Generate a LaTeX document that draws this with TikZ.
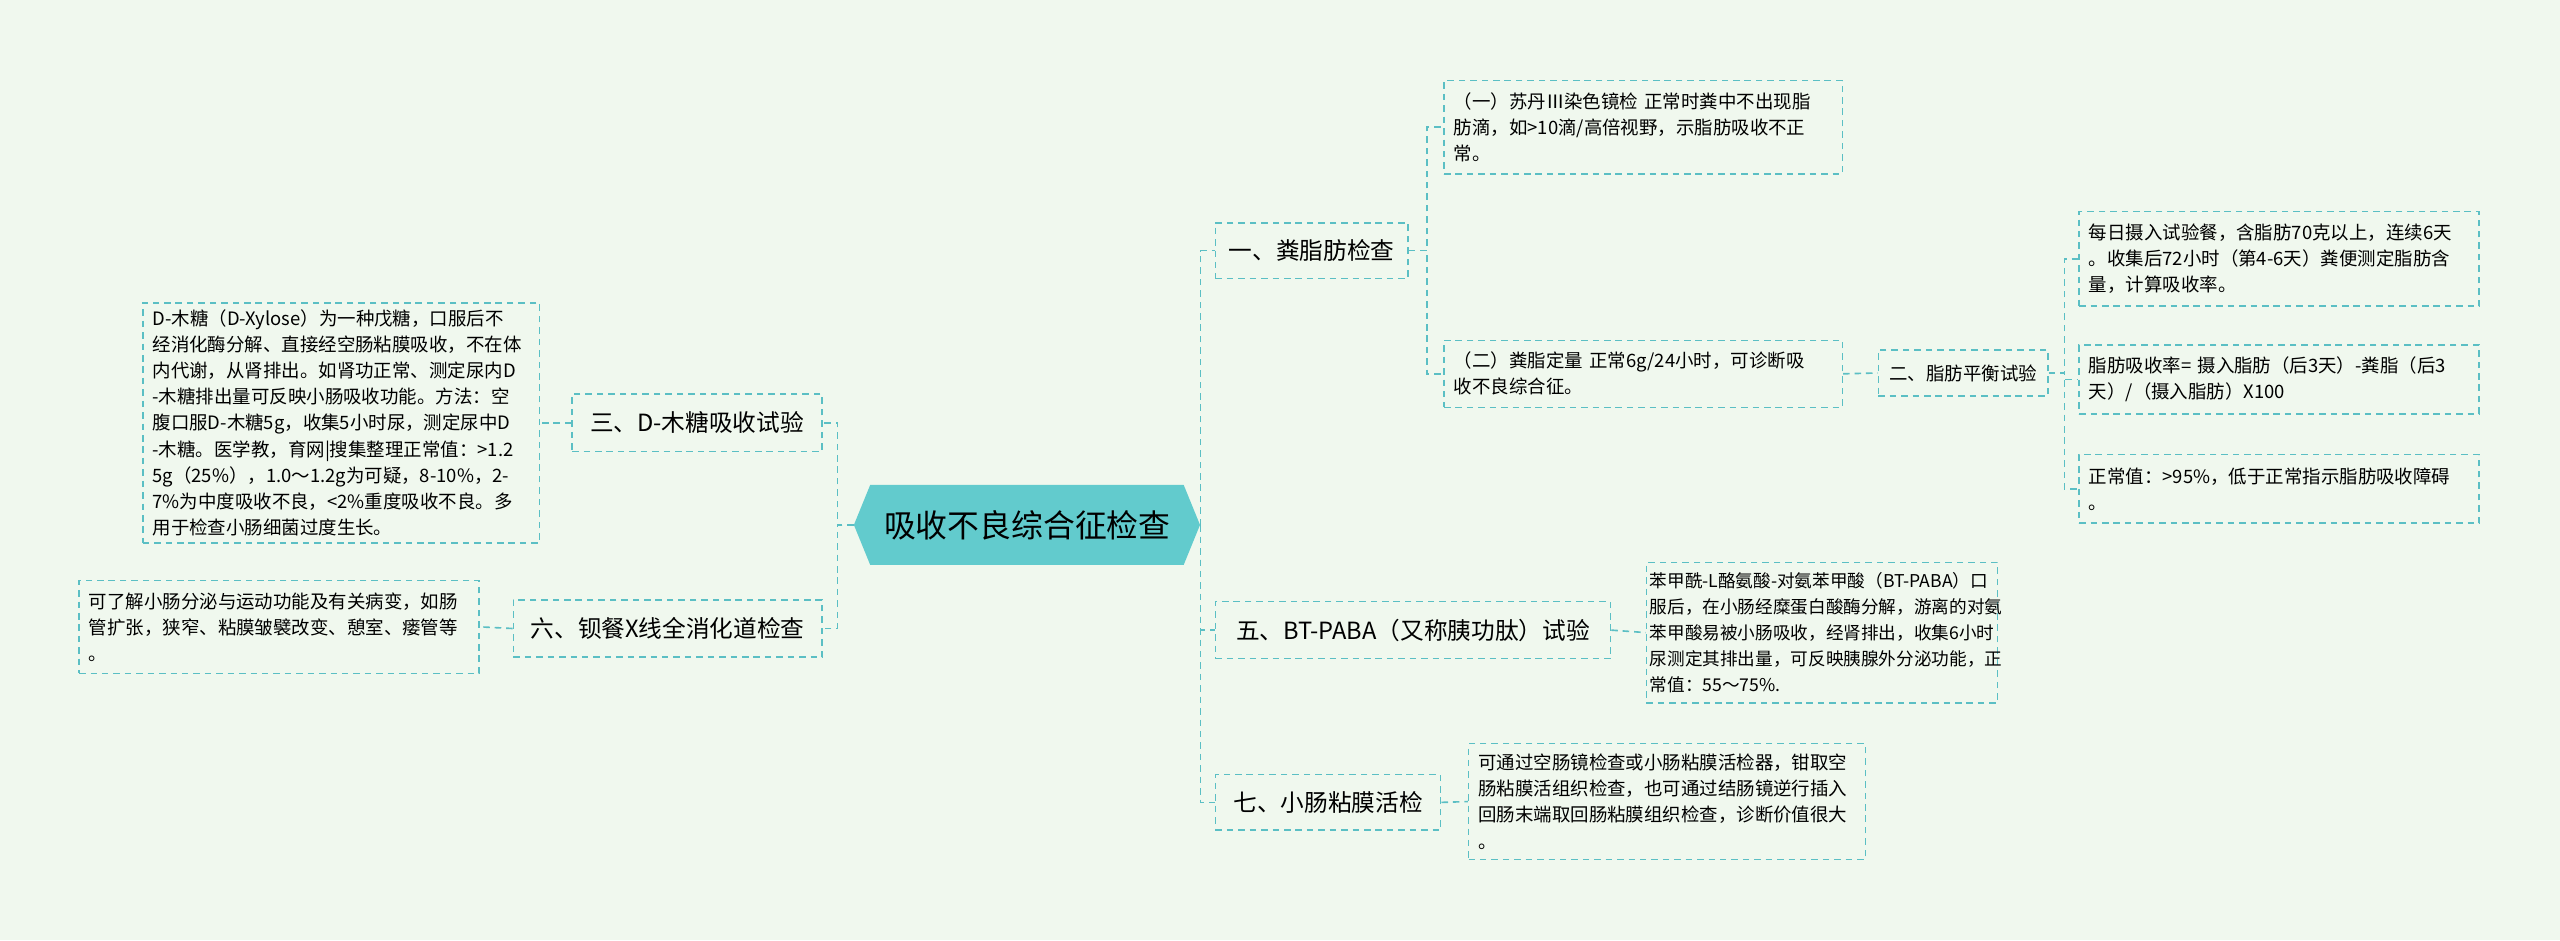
\documentclass[tikz,border=0pt]{standalone}
\usepackage{fontspec}
\setmainfont{Noto Sans CJK SC}
\usetikzlibrary{calc}
\definecolor{bg}{HTML}{F0F8EE}
\definecolor{ln}{HTML}{5BBFC4}
\definecolor{rootc}{HTML}{62CBCD}
\tikzset{
  conn/.style={draw=ln,line width=1pt,dash pattern=on 4pt off 3pt},
  box/.style={draw=ln,line width=0.9pt,dash pattern=on 4pt off 3pt,anchor=north west,inner sep=0pt,align=center},
  lvl/.style={box,font=\fontsize{14.5}{17}\selectfont},
  leaf/.style={box,font=\fontsize{11.3}{16}\selectfont,align=left},
}
\begin{document}
\begin{tikzpicture}[x=1pt,y=-1pt]
\fill[bg] (0,0) rectangle (1568,576);
\useasboundingbox (0,0) rectangle (1568,576);
% root
\fill[rootc] (523,321.5)--(533,297)--(725,297)--(735,321.5)--(725,346)--(533,346)--cycle;
\node[font=\fontsize{19.5}{22}\selectfont,minimum width=212,minimum height=49,anchor=north west,inner sep=0] (root) at (523,297) {吸收不良综合征检查};
% left
\node[lvl,minimum width=153,minimum height=35] (n3) at (350,241) {三、D-木糖吸收试验};
\node[lvl,minimum width=189,minimum height=35] (n6) at (314,367) {六、钡餐X线全消化道检查};
\node[leaf,minimum width=243,minimum height=147,text width=231,inner xsep=6pt] (t3) at (87,185) {D-木糖（D-Xylose）为一种戊糖，口服后不\\经消化酶分解、直接经空肠粘膜吸收，不在体\\内代谢，从肾排出。如肾功正常、测定尿内D\\-木糖排出量可反映小肠吸收功能。方法：空\\腹口服D-木糖5g，收集5小时尿，测定尿中D\\-木糖。医学教，育网|搜集整理正常值：>1.2\\5g（25\%），1.0～1.2g为可疑，8-10\%，2-\\7\%为中度吸收不良，<2\%重度吸收不良。多\\用于检查小肠细菌过度生长。};
\node[leaf,minimum width=245,minimum height=57,text width=233,inner xsep=6pt] (t6) at (48,355) {可了解小肠分泌与运动功能及有关病变，如肠\\管扩张，狭窄、粘膜皱襞改变、憩室、瘘管等\\。};
% right level1
\node[lvl,minimum width=118,minimum height=34] (n1) at (744,136) {一、粪脂肪检查};
\node[lvl,minimum width=242,minimum height=35] (n5) at (744,368) {五、BT-PABA（又称胰功肽）试验};
\node[lvl,minimum width=138,minimum height=34] (n7) at (744,474) {七、小肠粘膜活检};
% sub of 1
\node[leaf,minimum width=244,minimum height=57,text width=232,inner xsep=6pt] (a1) at (884,49) {（一）苏丹Ⅲ染色镜检 正常时粪中不出现脂\\肪滴，如>10滴/高倍视野，示脂肪吸收不正\\常。};
\node[leaf,minimum width=244,minimum height=41,text width=232,inner xsep=6pt] (a2) at (884,208) {（二）粪脂定量 正常6g/24小时，可诊断吸\\收不良综合征。};
\node[box,font=\fontsize{11.3}{14}\selectfont,minimum width=104,minimum height=28] (b2) at (1150,214) {二、脂肪平衡试验};
\node[leaf,minimum width=245,minimum height=58,text width=233,inner xsep=6pt] (c1) at (1273,129) {每日摄入试验餐，含脂肪70克以上，连续6天\\。收集后72小时（第4-6天）粪便测定脂肪含\\量，计算吸收率。};
\node[leaf,minimum width=245,minimum height=42,text width=233,inner xsep=6pt] (c2) at (1273,211) {脂肪吸收率= 摄入脂肪（后3天）-粪脂（后3\\天）/（摄入脂肪）X100};
\node[leaf,minimum width=245,minimum height=42,text width=233,inner xsep=6pt] (c3) at (1273,278) {正常值：>95\%，低于正常指示脂肪吸收障碍\\。};
\node[leaf,font=\fontsize{10.8}{16}\selectfont,minimum width=215,minimum height=86,text width=211,inner xsep=2pt] (t5) at (1008,344) {\hbox{苯甲酰-L酪氨酸-对氨苯甲酸（BT-PABA）口}\\服后，在小肠经糜蛋白酸酶分解，游离的对氨\\苯甲酸易被小肠吸收，经肾排出，收集6小时\\尿测定其排出量，可反映胰腺外分泌功能，正\\常值：55～75\%.};
\node[leaf,minimum width=243,minimum height=71,text width=231,inner xsep=6pt] (t7) at (899,455) {可通过空肠镜检查或小肠粘膜活检器，钳取空\\肠粘膜活组织检查，也可通过结肠镜逆行插入\\回肠末端取回肠粘膜组织检查，诊断价值很大\\。};
% connectors
\draw[conn] (root.east) |- (n1.west);
\draw[conn] (root.east) |- (n5.west);
\draw[conn] (root.east) |- (n7.west);
\draw[conn] (root.west) -- ++(-10,0) |- (n3.east);
\draw[conn] (root.west) -- ++(-10,0) |- (n6.east);
\draw[conn] (n3.west) -- (t3.east);
\draw[conn] (n6.west) -- (t6.east);
\draw[conn] (n1.east) -- ++(11,0) |- (a1.west);
\draw[conn] (n1.east) -- ++(11,0) |- (a2.west);
\draw[conn] (a2.east) -- (b2.west);
\draw[conn] (b2.east) -- ++(9.5,0) |- (c1.west);
\draw[conn] (b2.east) -- ++(9.5,0) |- (c2.west);
\draw[conn] (b2.east) -- ++(9.5,0) |- (c3.west);
\draw[conn] (n5.east) -- (t5.west);
\draw[conn] (n7.east) -- (t7.west);
\end{tikzpicture}
\end{document}
